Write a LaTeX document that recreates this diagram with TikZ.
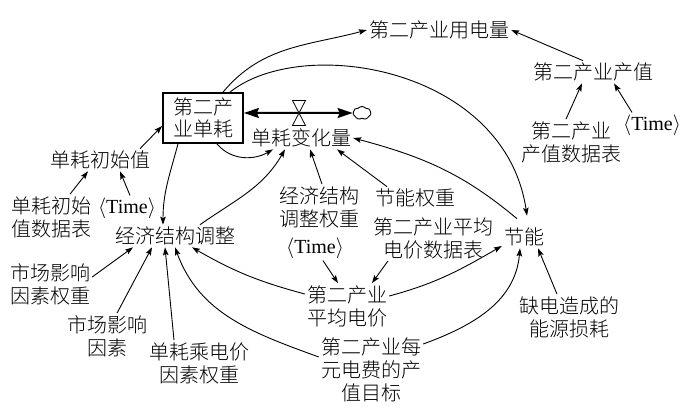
\documentclass[tikz,border=0pt]{standalone}
\usepackage{fontspec}
\newfontfamily\cjk{Noto Sans CJK SC}[UprightFont={* Light}]
\newfontfamily\tmfont{Liberation Serif}
\usetikzlibrary{arrows.meta,shapes.symbols}
\begin{document}
\begin{tikzpicture}[x=1pt,y=-1pt,
  lbl/.style={font=\cjk\fontsize{20}{23}\selectfont, align=center, inner sep=2pt},
  tm/.style={font=\tmfont\fontsize{20}{23}\selectfont, inner sep=2pt},
  link/.style={line width=0.9pt, -{Stealth[length=8pt,width=5.5pt,inset=1.5pt]}},
  stockbox/.style={draw, line width=1.8pt, minimum width=80pt, minimum height=50pt,
    inner sep=0pt, align=center, font=\cjk\fontsize{20}{22}\selectfont},
  flowline/.style={line width=2pt,
    {Stealth[length=15pt,width=10pt,inset=2pt]}-{Stealth[length=15pt,width=10pt,inset=2pt]}},
  sink/.style={cloud, draw, cloud puffs=7, cloud puff arc=100, aspect=1.5,
    minimum width=18pt, minimum height=13pt, inner sep=0pt, line width=0.9pt},
]
\fill[white] (0,0) rectangle (698,409);
\useasboundingbox (0,0) rectangle (698,409);

% stock and its flow
\node[stockbox] (stock) at (203,118) {第二产\\业单耗};
\node[sink] (sink) at (362,113) {};
\draw[flowline] ([yshift=5pt]stock.east) -- (sink.west);
\coordinate (valve) at (299,113);
\draw[line width=0.8pt, fill=white, shift={(valve)}]
  (-6.5,-12.5) -- (6.5,-12.5) -- (-6.5,12.5) -- (6.5,12.5) -- cycle;
\node[lbl] (dv) at (301,138) {单耗变化量};

% auxiliaries and constants
\node[lbl] (yd)   at (439,30)  {第二产业用电量};
\node[lbl] (cz)   at (593,72)  {第二产业产值};
\node[lbl] (czsj) at (571,142) {第二产业\\产值数据表};
\node[tm]  (timeR) at (652,125) {$\langle$Time$\rangle$};
\node[lbl] (dcsz) at (100,160) {单耗初始值};
\node[lbl] (dcsb) at (51,217)  {单耗初始\\值数据表};
\node[tm]  (timeL) at (127,208) {$\langle$Time$\rangle$};
\node[lbl] (jjtz) at (175,236) {经济结构调整};
\node[lbl] (jjqz) at (319,207) {经济结构\\调整权重};
\node[lbl] (jnqz) at (415,198) {节能权重};
\node[lbl] (pjsb) at (433,238) {第二产业平均\\电价数据表};
\node[tm]  (timeM) at (315,248) {$\langle$Time$\rangle$};
\node[lbl] (jn)   at (524,237) {节能};
\node[lbl] (pjdj) at (347,306) {第二产业\\平均电价};
\node[lbl] (qd)   at (569,317) {缺电造成的\\能源损耗};
\node[lbl] (scqz) at (50,284)  {市场影响\\因素权重};
\node[lbl] (scys) at (107,336) {市场影响\\因素};
\node[lbl] (dcdj) at (199,363) {单耗乘电价\\因素权重};
\node[lbl] (mb)   at (371,370) {第二产业每\\元电费的产\\值目标};

% links
\draw[link] ([xshift=20pt]stock.north) to[out=50,in=195] (yd.west);
\draw[link] ([xshift=27pt]stock.north) .. controls +(73,-58) and +(-22,-148) .. ([xshift=3pt,yshift=10pt]jn.north);
\draw[link] ([xshift=-10pt]cz.north) -- (yd.east);
\draw[link] ([xshift=-5pt]czsj.north) -- ([xshift=-11pt]cz.south);
\draw[link] ([xshift=-20pt]timeR.north) -- ([xshift=21pt]cz.south);
\draw[link] ([xshift=-7pt,yshift=7pt]jn.north) to[out=140,in=-15] (dv.east);

\draw[link] ([xshift=40pt]dcsz.north) -- ([yshift=-8pt]stock.west);
\draw[link] ([xshift=19pt]dcsb.north) -- ([xshift=-12pt]dcsz.south);
\draw[link] ([xshift=3pt]timeL.north) -- ([xshift=20pt]dcsz.south);

\draw[link] ([xshift=-25pt]stock.south) to[out=-105,in=90] ([xshift=-12pt]jjtz.north);
\draw[link] ([xshift=14pt]stock.south) to[out=-50,in=210] ([xshift=-28pt]dv.south);
\draw[link] ([xshift=25pt]jjtz.north) to[out=35,in=-120] ([xshift=-16pt]dv.south);
\draw[link] ([xshift=3pt]jjqz.north) -- ([xshift=9pt]dv.south);
\draw[link] ([xshift=-28pt]jnqz.north) -- ([xshift=36pt]dv.south);

\draw[link] ([xshift=8pt]timeM.south) -- ([xshift=-9pt]pjdj.north);
\draw[link] ([xshift=-45pt]pjsb.south) -- ([xshift=25pt]pjdj.north);
\draw[link] ([yshift=10pt]pjdj.east) to[out=15,in=210] ([yshift=-9pt]jn.west);
\draw[link] ([yshift=12pt]pjdj.west) to[out=165,in=-30] ([xshift=17pt]jjtz.south);

\draw[link] ([yshift=7pt]scqz.east) -- ([xshift=-42pt]jjtz.south);
\draw[link] ([xshift=10pt]scys.north) -- ([xshift=-23pt]jjtz.south);
\draw[link] ([xshift=-25pt]dcdj.north) -- ([xshift=-10pt]jjtz.south);
\draw[link] ([yshift=13pt]mb.west) to[out=160,in=-70] (jjtz.south);
\draw[link] ([yshift=26pt]mb.east) to[out=20,in=-95] ([xshift=-4pt]jn.south);
\draw[link] ([xshift=-12pt]qd.north) -- ([xshift=14pt]jn.south);
\end{tikzpicture}
\end{document}
